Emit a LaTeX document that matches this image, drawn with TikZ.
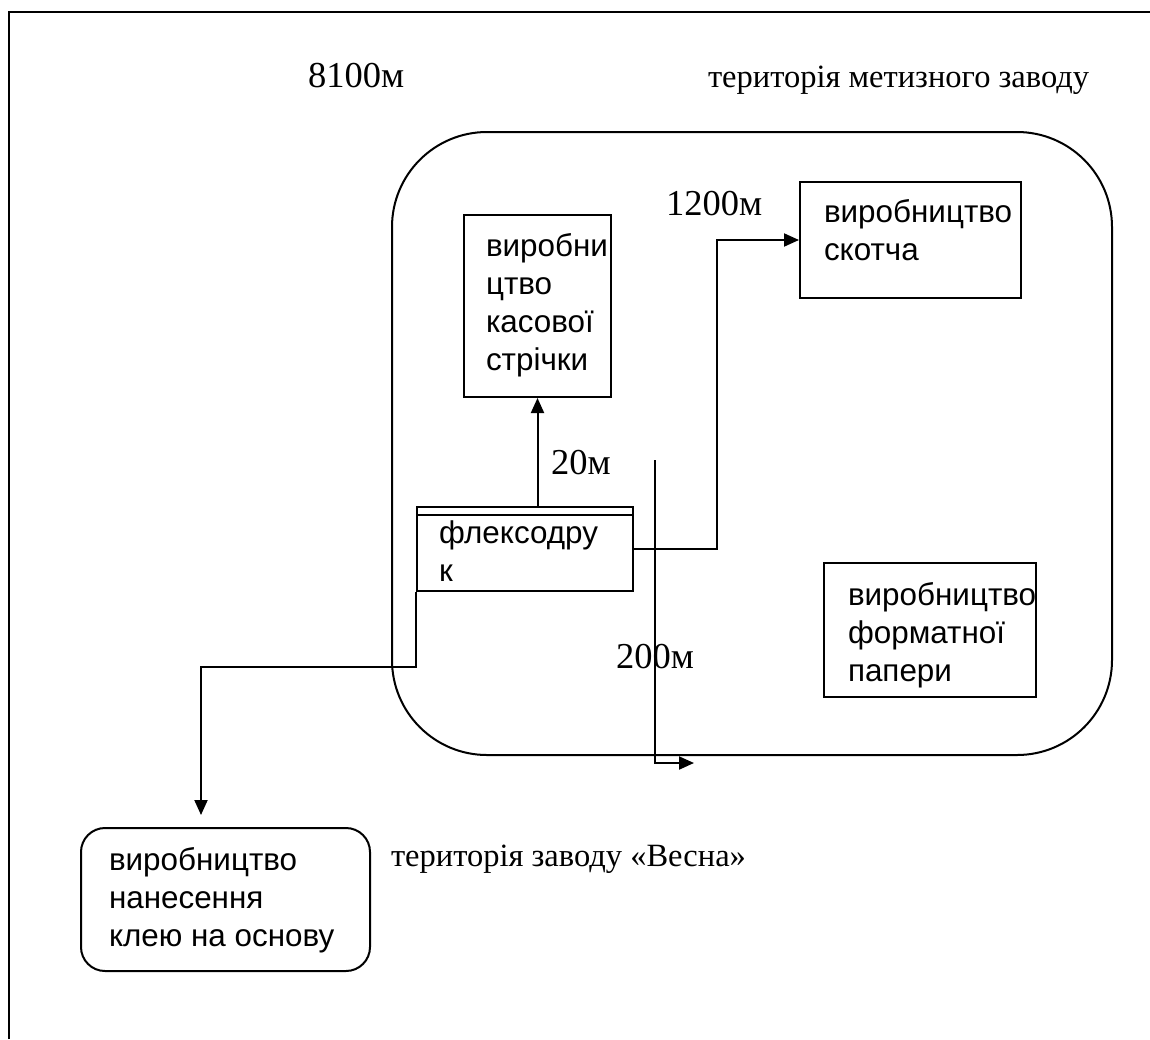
\documentclass[tikz,border=0pt]{standalone}
\usepackage{fontspec}
\setmainfont{Liberation Serif}
\setsansfont{Liberation Sans}
\usetikzlibrary{arrows.meta}
\begin{document}
\begin{tikzpicture}[x=1pt,y=-1pt,
  line width=2pt,
  box/.style={draw, rectangle, inner sep=0pt},
  lbl/.style={font=\fontsize{32.5}{38}\selectfont, anchor=base west, inner sep=0pt},
  big/.style={font=\fontsize{36.5}{40}\selectfont, anchor=base west, inner sep=0pt},
  btxt/.style={font=\sffamily\fontsize{31.4}{38}\selectfont, anchor=base west, inner sep=0pt},
  arr/.style={-{Triangle[length=15pt,width=13pt]}}]
\useasboundingbox (0,0) rectangle (1150,1039);
% outer frame (open at right and bottom)
\draw (9,1039) -- (9,12) -- (1150,12);
% metiz plant territory
\node[box, rounded corners=95pt, minimum width=720pt, minimum height=623pt] (zone) at (752,443.5) {};
% boxes
\node[box, minimum width=147pt, minimum height=182pt] (kasova) at (537.5,306) {};
\node[box, minimum width=221pt, minimum height=116pt] (scotch) at (910.5,240) {};
\node[box, minimum width=212pt, minimum height=134pt] (format) at (930,630) {};
\node[box, minimum width=216pt, minimum height=84pt] (flexo) at (525,549) {};
\draw ([yshift=-9pt]flexo.north west) -- ([yshift=-9pt]flexo.north east);
\node[box, rounded corners=24pt, minimum width=289pt, minimum height=143pt] (vesna) at (225.5,899.5) {};
% box texts
\node[btxt] (tkasova) at (485,256) {\begin{tabular}[t]{@{}l@{}}виробни\\цтво\\касової\\стрічки\end{tabular}};
\node[btxt] (tscotch) at (823,222) {\begin{tabular}[t]{@{}l@{}}виробництво\\скотча\end{tabular}};
\node[btxt] (tformat) at (847,605) {\begin{tabular}[t]{@{}l@{}}виробництво\\форматної\\папери\end{tabular}};
\node[btxt] (tflexo) at (438,543) {\begin{tabular}[t]{@{}l@{}}флексодру\\к\end{tabular}};
\node[btxt] (tvesna) at (108,870) {\begin{tabular}[t]{@{}l@{}}виробництво\\нанесення\\клею на основу\end{tabular}};
% labels
\node[big] (l8100) at (307,87) {8100м};
\node[lbl] (lmetiz) at (707,87) {територія метизного заводу};
\node[big] (l1200) at (665,215) {1200м};
\node[big] (l20) at (550,474) {20м};
\node[big] (l200) at (615,668) {200м};
\node[lbl] (lvesna) at (390,866) {територія заводу «Весна»};
% connectors
\draw[arr] (kasova.south |- flexo.north) -- (kasova.south);
\draw[arr] (flexo.east) -- ++(83,0) |- (scotch.west);
\coordinate (tipA) at (201,815);
\draw[arr] (flexo.south west) -- ++(0,75) -| (tipA);
\coordinate (s200) at (655,460);
\coordinate (e200) at (694,763);
\draw[arr] (s200) |- (e200);
\end{tikzpicture}
\end{document}
